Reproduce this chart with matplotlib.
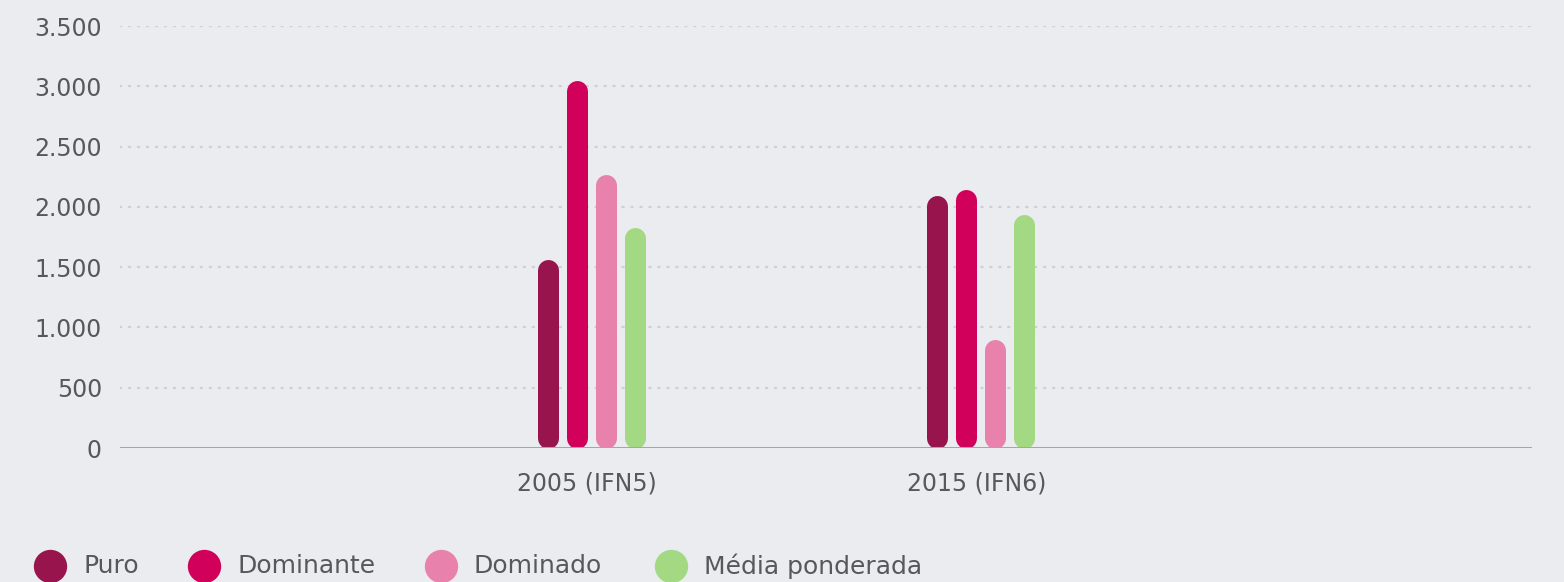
import matplotlib
matplotlib.use("Agg")
import matplotlib.pyplot as plt
from matplotlib.lines import Line2D
import numpy as np

categories = ["2005 (IFN5)", "2015 (IFN6)"]
series_names = ["Puro", "Dominante", "Dominado", "Média ponderada"]
puro = [1560, 2095]
dominante = [3045, 2140]
dominado = [2270, 900]
media = [1830, 1940]
yticks = [0, 500, 1000, 1500, 2000, 2500, 3000, 3500]
ytick_labels = ["0", "500", "1.000", "1.500", "2.000", "2.500", "3.000", "3.500"]

colors = ["#97144D", "#D1005A", "#E882AC", "#A2D982"]
bg = "#EBECF0"
txt = "#55585D"

W, H, DPI = 15.64, 5.82, 100
fig = plt.figure(figsize=(W, H), dpi=DPI, facecolor=bg)
ax_l, ax_r, ax_t, ax_b = 120, 1532, 26, 448
ax = fig.add_axes([ax_l / 1564, (582 - ax_b) / 582, (ax_r - ax_l) / 1564, (ax_b - ax_t) / 582])
ax.set_facecolor(bg)
ax.set_ylim(0, 3500)
ax.set_xlim(-1.2096, 2.4165)

bar_px = 21
units_per_px = 3500 / (ax_b - ax_t)
r = bar_px / 2 * units_per_px
lw_pt = bar_px * 72 / DPI
step = 29 / 389.4

x = np.arange(len(categories))
all_series = [puro, dominante, dominado, media]
for i, (vals, c) in enumerate(zip(all_series, colors)):
    xs = x + (i - 1.5) * step
    for xi, v in zip(xs, vals):
        ax.plot([xi, xi], [r, v - r], color=c, lw=lw_pt, solid_capstyle="round", zorder=3)

for t in yticks[1:]:
    ax.axhline(t, color="#CDD0D4", lw=1.7, linestyle=(0, (0.5, 3.3)), dash_capstyle="round", zorder=1)
ax.axhline(0, color="#A6A6A6", lw=2.2, zorder=4)

for s in ax.spines.values():
    s.set_visible(False)
ax.set_yticks(yticks)
ax.set_yticklabels(ytick_labels)
ax.set_xticks(x - 0.01)
ax.set_xticklabels(categories)
ax.tick_params(axis="both", length=0, labelsize=17, labelcolor=txt)
ax.tick_params(axis="y", pad=13)
ax.tick_params(axis="x", pad=17)

# legend
leg_circle_x = [50, 204, 441, 671]
leg_text_x = [83, 237, 474, 704]
leg_y = 566
for name, c, cx, tx in zip(series_names, colors, leg_circle_x, leg_text_x):
    fig.add_artist(Line2D([cx / 1564], [1 - leg_y / 582], marker="o", markersize=24,
                          color=c, markeredgewidth=0, transform=fig.transFigure))
    fig.text(tx / 1564, 1 - leg_y / 582, name, fontsize=18, color=txt, va="center", ha="left")

fig.savefig("out.png", dpi=DPI, facecolor=bg)
